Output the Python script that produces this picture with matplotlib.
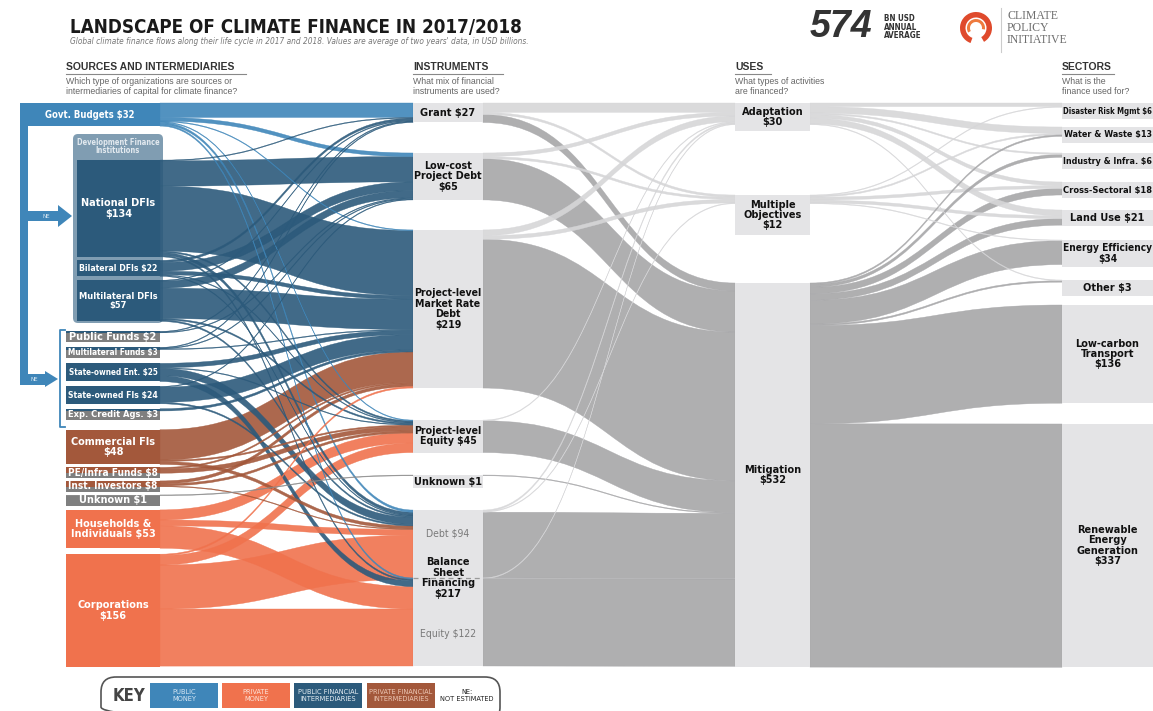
import matplotlib
matplotlib.use("Agg")
import matplotlib.pyplot as plt
from matplotlib import font_manager as fm
from matplotlib.path import Path
from matplotlib.patches import PathPatch, Rectangle, FancyBboxPatch, Polygon, Wedge

# ---- data: USD billions, annual average 2017/2018 ----
sources = ["Govt. Budgets", "National DFIs", "Bilateral DFIs", "Multilateral DFIs",
           "Public Funds", "Multilateral Funds", "State-owned Ent.", "State-owned FIs",
           "Exp. Credit Ags.", "Commercial FIs", "PE/Infra Funds", "Inst. Investors",
           "Unknown", "Households & Individuals", "Corporations"]
source_values = [32, 134, 22, 57, 2, 3, 25, 24, 3, 48, 8, 8, 1, 53, 156]
source_labels = ["Govt. Budgets $32", "National DFIs\n$134", "Bilateral DFIs $22",
                 "Multilateral DFIs\n$57", "Public Funds $2", "Multilateral Funds $3",
                 "State-owned Ent. $25", "State-owned FIs $24", "Exp. Credit Ags. $3",
                 "Commercial FIs\n$48", "PE/Infra Funds $8", "Inst. Investors $8",
                 "Unknown $1", "Households &\nIndividuals $53", "Corporations\n$156"]
source_kind = ["public", "pfi", "pfi", "pfi", "pfi", "pfi", "pfi", "pfi", "pfi",
               "prfi", "prfi", "prfi", "ne", "private", "private"]

instruments = ["Grant", "Low-cost Debt", "Market Rate Debt", "Equity", "Unknown",
               "BS Debt", "BS Equity"]
instrument_values = [27, 65, 219, 45, 1, 94, 122]
instrument_labels = ["Grant $27", "Low-cost\nProject Debt\n$65",
                     "Project-level\nMarket Rate\nDebt\n$219", "Project-level\nEquity $45",
                     "Unknown $1", "Debt $94", "Equity $122"]

uses = ["Adaptation", "Multiple Objectives", "Mitigation"]
use_values = [30, 12, 532]
use_labels = ["Adaptation\n$30", "Multiple\nObjectives\n$12", "Mitigation\n$532"]

sectors = ["Disaster Risk Mgmt", "Water & Waste", "Industry & Infra.", "Cross-Sectoral",
           "Land Use", "Energy Efficiency", "Other", "Low-carbon Transport",
           "Renewable Energy Generation"]
sector_values = [6, 13, 6, 18, 21, 34, 3, 136, 337]
sector_labels = ["Disaster Risk Mgmt $6", "Water & Waste $13", "Industry & Infra. $6",
                 "Cross-Sectoral $18", "Land Use $21", "Energy Efficiency\n$34", "Other $3",
                 "Low-carbon\nTransport\n$136", "Renewable\nEnergy\nGeneration\n$337"]

flows_src_inst = [
    ("Govt. Budgets", "Grant", 20), ("Govt. Budgets", "Low-cost Debt", 5),
    ("Govt. Budgets", "Market Rate Debt", 1), ("Govt. Budgets", "Equity", 1),
    ("Govt. Budgets", "BS Debt", 3), ("Govt. Budgets", "BS Equity", 2),
    ("National DFIs", "Grant", 1), ("National DFIs", "Low-cost Debt", 35),
    ("National DFIs", "Market Rate Debt", 90), ("National DFIs", "Equity", 2),
    ("National DFIs", "BS Debt", 4), ("National DFIs", "BS Equity", 2),
    ("Bilateral DFIs", "Grant", 3), ("Bilateral DFIs", "Low-cost Debt", 12),
    ("Bilateral DFIs", "Market Rate Debt", 5), ("Bilateral DFIs", "Equity", 1),
    ("Bilateral DFIs", "BS Debt", 1),
    ("Multilateral DFIs", "Grant", 1), ("Multilateral DFIs", "Low-cost Debt", 10),
    ("Multilateral DFIs", "Market Rate Debt", 42), ("Multilateral DFIs", "Equity", 2),
    ("Multilateral DFIs", "BS Debt", 2),
    ("Public Funds", "Grant", 1), ("Public Funds", "Low-cost Debt", 1),
    ("Multilateral Funds", "Grant", 1), ("Multilateral Funds", "Low-cost Debt", 1),
    ("Multilateral Funds", "Market Rate Debt", 1),
    ("State-owned Ent.", "Market Rate Debt", 6), ("State-owned Ent.", "Equity", 1),
    ("State-owned Ent.", "BS Debt", 10), ("State-owned Ent.", "BS Equity", 8),
    ("State-owned FIs", "Low-cost Debt", 1), ("State-owned FIs", "Market Rate Debt", 21),
    ("State-owned FIs", "BS Debt", 2),
    ("Exp. Credit Ags.", "Market Rate Debt", 3),
    ("Commercial FIs", "Market Rate Debt", 42), ("Commercial FIs", "Equity", 2),
    ("Commercial FIs", "BS Debt", 4),
    ("PE/Infra Funds", "Market Rate Debt", 2), ("PE/Infra Funds", "Equity", 6),
    ("Inst. Investors", "Market Rate Debt", 4), ("Inst. Investors", "Equity", 3),
    ("Inst. Investors", "BS Debt", 1),
    ("Unknown", "Unknown", 1),
    ("Households & Individuals", "Equity", 14), ("Households & Individuals", "BS Debt", 8),
    ("Households & Individuals", "BS Equity", 31),
    ("Corporations", "Market Rate Debt", 2), ("Corporations", "Equity", 13),
    ("Corporations", "BS Debt", 61), ("Corporations", "BS Equity", 79),
]

flows_inst_use = [
    ("Grant", "Adaptation", 13), ("Grant", "Multiple Objectives", 3), ("Grant", "Mitigation", 11),
    ("Low-cost Debt", "Adaptation", 5), ("Low-cost Debt", "Multiple Objectives", 3),
    ("Low-cost Debt", "Mitigation", 57),
    ("Market Rate Debt", "Adaptation", 8), ("Market Rate Debt", "Multiple Objectives", 5),
    ("Market Rate Debt", "Mitigation", 206),
    ("Equity", "Adaptation", 1), ("Equity", "Mitigation", 44),
    ("Unknown", "Mitigation", 1),
    ("BS Debt", "Adaptation", 2), ("BS Debt", "Multiple Objectives", 1), ("BS Debt", "Mitigation", 91),
    ("BS Equity", "Adaptation", 1), ("BS Equity", "Mitigation", 121),
]

flows_use_sector = [
    ("Adaptation", "Disaster Risk Mgmt", 5), ("Adaptation", "Water & Waste", 9),
    ("Adaptation", "Industry & Infra.", 2), ("Adaptation", "Cross-Sectoral", 5),
    ("Adaptation", "Land Use", 8), ("Adaptation", "Other", 1),
    ("Multiple Objectives", "Disaster Risk Mgmt", 1), ("Multiple Objectives", "Water & Waste", 2),
    ("Multiple Objectives", "Cross-Sectoral", 4), ("Multiple Objectives", "Land Use", 4),
    ("Multiple Objectives", "Energy Efficiency", 1),
    ("Mitigation", "Water & Waste", 2), ("Mitigation", "Industry & Infra.", 4),
    ("Mitigation", "Cross-Sectoral", 9), ("Mitigation", "Land Use", 9),
    ("Mitigation", "Energy Efficiency", 33), ("Mitigation", "Other", 2),
    ("Mitigation", "Low-carbon Transport", 136),
    ("Mitigation", "Renewable Energy Generation", 337),
]

# ---- layout & style ----
W, H = 1153, 711
S = 0.722  # pixels per USD bn
PUB, PRIV, PFI, PRFI, NEG = "#3f86b9", "#f0724d", "#2c5a7b", "#a3583b", "#7f7f7f"
kind_color = {"public": PUB, "private": PRIV, "pfi": PFI, "prfi": PRFI, "ne": "#8a8a8a"}
BOX = "#e4e4e6"
GRAY_DARK, GRAY_LIGHT = "#a6a6a8", "#d6d6d8"
SANS = ["Liberation Sans", "DejaVu Sans"]


def condensed(bold=False, italic=False):
    # look for an installed narrow/condensed face, else fall back to Liberation Sans
    best = None
    for f in fm.fontManager.ttflist:
        fn = f.fname.lower().rsplit("/", 1)[-1]
        if not ("narrow" in fn or "condensed" in fn):
            continue
        if "semicondensed" in fn or "extracondensed" in fn or "ultracondensed" in fn:
            continue
        is_bold = "bold" in fn and not any(s in fn for s in ("semibold", "extrabold", "demibold"))
        is_it = "italic" in fn or "oblique" in fn
        plain = not any(s in fn for s in ("light", "thin", "medium", "black", "semi", "extra"))
        if is_bold == bold and is_it == italic and plain:
            rank = 0 if "liberation" in fn else (1 if "noto" in fn else (2 if "dejavu" in fn else 3))
            if best is None or rank < best[0]:
                best = (rank, f.fname)
    if best:
        return fm.FontProperties(fname=best[1])
    return fm.FontProperties(family=SANS, weight="bold" if bold else "normal",
                             style="italic" if italic else "normal")


NB = condensed(bold=True)
NR = condensed()
NI = condensed(italic=True)

fig = plt.figure(figsize=(W / 100, H / 100), dpi=100)
ax = fig.add_axes([0, 0, 1, 1])
ax.set_xlim(0, W)
ax.set_ylim(H, 0)
ax.axis("off")
renderer = fig.canvas.get_renderer()


def label(x, y, s, fp, size, color, maxw=None, **kw):
    p = fp.copy()
    p.set_size(size)
    t = ax.text(x, y, s, fontproperties=p, color=color, **kw)
    if maxw:
        w = t.get_window_extent(renderer).width
        if w > maxw:
            t.set_fontsize(size * maxw / w)
    return t


def place(names, values, labels, gaps, start, lh, pad):
    tops, hts = {}, {}
    y = start
    for n, v, lab, g in zip(names, values, labels, gaps):
        y += g
        h = max(v * S, (lab.count("\n") + 1) * lh + pad)
        tops[n], hts[n] = y, h
        y += h
    return tops, hts


src_top, src_h = place(sources, source_values, source_labels,
                       [0, 34, 3.5, 4, 10, 5, 5, 5, 5, 10, 3, 2.5, 3, 4, 6], 103, 10, 1)
inst_top, inst_h = place(instruments, instrument_values, ["x"] * len(instruments),
                         [0, 30.5, 30, 32, 22.5, 22, 0], 103, 11, 2)
use_top, use_h = place(uses, use_values, use_labels, [0, 64, 48], 103, 12, 4)
sec_top, sec_h = place(sectors, sector_values, sector_labels,
                       [0, 8, 10, 13, 12, 14, 13, 9, 20.8], 103, 11, 5)

SRC_X0, SRC_X1 = 66, 160
INST_X0, INST_X1 = 413, 483
USE_X0, USE_X1 = 735, 810
SEC_X0, SEC_X1 = 1062, W


def ribbon(x0, ya0, ya1, x1, yb0, yb1, color, alpha):
    xm = (x0 + x1) / 2
    verts = [(x0, ya0), (xm, ya0), (xm, yb0), (x1, yb0),
             (x1, yb1), (xm, yb1), (xm, ya1), (x0, ya1), (x0, ya0)]
    codes = [Path.MOVETO, Path.CURVE4, Path.CURVE4, Path.CURVE4, Path.LINETO,
             Path.CURVE4, Path.CURVE4, Path.CURVE4, Path.CLOSEPOLY]
    ax.add_patch(PathPatch(Path(verts, codes), fc=color, ec=color, lw=0.3,
                           alpha=alpha, zorder=2))


def draw_flows(flows, a_names, a_top, b_names, b_top, xa, xb, color_of, alpha):
    out_y = dict(a_top)
    in_y = dict(b_top)
    bands = {}
    for f in sorted(flows, key=lambda f: (a_names.index(f[0]), b_names.index(f[1]))):
        bands[f] = [out_y[f[0]], out_y[f[0]] + f[2] * S]
        out_y[f[0]] += f[2] * S
    for f in sorted(flows, key=lambda f: (b_names.index(f[1]), a_names.index(f[0]))):
        bands[f] += [in_y[f[1]], in_y[f[1]] + f[2] * S]
        in_y[f[1]] += f[2] * S
    for f in sorted(flows, key=lambda f: -f[2]):
        ya0, ya1, yb0, yb1 = bands[f]
        ribbon(xa, ya0, ya1, xb, yb0, yb1, color_of(f), alpha)


src_color = dict(zip(sources, [kind_color[k] for k in source_kind]))
draw_flows(flows_src_inst, sources, src_top, instruments, inst_top, SRC_X1, INST_X0,
           lambda f: src_color[f[0]], 0.9)
draw_flows(flows_inst_use, instruments, inst_top, uses, use_top, INST_X1, USE_X0,
           lambda f: GRAY_DARK if f[1] == "Mitigation" else GRAY_LIGHT, 0.9)
draw_flows(flows_use_sector, uses, use_top, sectors, sec_top, USE_X1, SEC_X0,
           lambda f: GRAY_DARK if f[0] == "Mitigation" else GRAY_LIGHT, 0.9)

# ---- left frame: govt budgets + NE arrows ----
ax.add_patch(Rectangle((20, 103), 8, 282, fc=PUB, ec="none", zorder=3))
ax.add_patch(Polygon([(28, 211), (58, 211), (58, 205), (72, 216), (58, 227), (58, 221), (28, 221)],
                     closed=True, fc=PUB, ec="none", zorder=3))
ax.add_patch(Polygon([(20, 374), (45, 374), (45, 371), (58, 379), (45, 387), (45, 385), (20, 385)],
                     closed=True, fc=PUB, ec="none", zorder=3))
label(46, 216, "NE", NR, 4.5, "#d6e6f2", ha="center", va="center", zorder=4)
label(34, 379.5, "NE", NR, 4.5, "#d6e6f2", ha="center", va="center", zorder=4)
ax.plot([65, 60, 60, 65], [330, 330, 427, 427], color=PUB, lw=1.3, zorder=3)
ax.add_patch(FancyBboxPatch((73, 134), 90, 189, boxstyle="round,pad=0,rounding_size=5",
                            fc="#809db2", ec="none", zorder=1))
label(118, 146.5, "Development Finance\nInstitutions", NB, 6, "#e2e9ef", maxw=84,
      ha="center", va="center", linespacing=0.95, zorder=4)

# ---- nodes ----
for n, v, lab, k in zip(sources, source_values, source_labels, source_kind):
    x0 = 77 if n in ("National DFIs", "Bilateral DFIs", "Multilateral DFIs") else SRC_X0
    if n == "Govt. Budgets":
        x0 = 20
    top, h = src_top[n], src_h[n]
    if v * S < h - 0.5:
        ax.add_patch(Rectangle((x0, top), SRC_X1 - x0, h, fc=NEG, ec="none", zorder=3))
    ax.add_patch(Rectangle((x0, top), SRC_X1 - x0, v * S, fc=kind_color[k], ec="none", zorder=3))
    cx = 90 if n == "Govt. Budgets" else (x0 + SRC_X1) / 2
    label(cx, top + h / 2, lab, NB, 7.8, "white", maxw=min(SRC_X1 - x0, 94) - 4,
          ha="center", va="center", linespacing=1.05, zorder=4)

for n, lab in zip(instruments, instrument_labels):
    top, h = inst_top[n], inst_h[n]
    ax.add_patch(Rectangle((INST_X0, top), INST_X1 - INST_X0, h, fc=BOX, ec="none", zorder=3))
    if n.startswith("BS"):
        label((INST_X0 + INST_X1) / 2, top + (h * 0.35 if n == "BS Debt" else h * 0.64), lab,
              NR, 7.5, "#7a7a7a", maxw=66, ha="center", va="center", zorder=4)
    else:
        label((INST_X0 + INST_X1) / 2, top + h / 2, lab, NB, 7.8, "#111111", maxw=68,
              ha="center", va="center", linespacing=1.05, zorder=4)
bs_split = inst_top["BS Equity"]
ax.plot([INST_X0, INST_X1], [bs_split, bs_split], color="#9a9a9a", lw=0.9, ls=(0, (4, 3)), zorder=4)
ax.plot([INST_X1, USE_X0], [bs_split, bs_split], color="#b8b8ba", lw=0.6, zorder=3)
label((INST_X0 + INST_X1) / 2, bs_split, "Balance\nSheet\nFinancing\n$217", NB, 7.8, "#111111",
      maxw=68, ha="center", va="center", linespacing=1.05, zorder=4)

for n, lab in zip(uses, use_labels):
    top, h = use_top[n], use_h[n]
    ax.add_patch(Rectangle((USE_X0, top), USE_X1 - USE_X0, h, fc=BOX, ec="none", zorder=3))
    label((USE_X0 + USE_X1) / 2, top + h / 2, lab, NB, 7.8, "#111111", maxw=72,
          ha="center", va="center", linespacing=1.05, zorder=4)

for n, lab in zip(sectors, sector_labels):
    top, h = sec_top[n], sec_h[n]
    ax.add_patch(Rectangle((SEC_X0, top), SEC_X1 - SEC_X0, h, fc=BOX, ec="none", zorder=3))
    label((SEC_X0 + SEC_X1) / 2, top + h / 2, lab, NB, 7.8, "#111111", maxw=89,
          ha="center", va="center", linespacing=1.05, zorder=4)

# ---- header ----
label(70, 33, "LANDSCAPE OF CLIMATE FINANCE IN 2017/2018", NB, 21, "#1a1a1a", maxw=452,
      va="baseline")
label(70, 44, "Global climate finance flows along their life cycle in 2017 and 2018. "
      "Values are average of two years' data, in USD billions.", NI, 6.3, "#777777", maxw=458,
      va="baseline")
headers = [(66, 246, "SOURCES AND INTERMEDIARIES",
            "Which type of organizations are sources or\nintermediaries of capital for climate finance?"),
           (413, 503, "INSTRUMENTS", "What mix of financial\ninstruments are used?"),
           (735, 771, "USES", "What types of activities\nare financed?"),
           (1062, 1113, "SECTORS", "What is the\nfinance used for?")]
for x0, x1, head, q in headers:
    t = ax.text(x0, 70, head, fontsize=7.5, weight="bold", family=SANS, color="#333333",
                va="baseline")
    w = t.get_window_extent(renderer).width
    ax.plot([x0, max(x1, x0 + w + 2)], [74, 74], color="#888888", lw=0.8)
    ax.text(x0, 77, q, fontsize=6.3, family=SANS, color="#666666", va="top", linespacing=1.15)

ax.text(810, 27, "574", fontsize=27, weight="bold", style="italic", family=SANS, color="#333333",
        va="center")
label(884, 27, "BN USD\nANNUAL\nAVERAGE", NB, 5.8, "#333333", va="center", linespacing=0.95)
ax.add_patch(Wedge((976, 28), 16, -250, 60, width=5.5, fc="#df4a2c", ec="none"))
ax.add_patch(Wedge((976, 28), 9, -210, 10, width=3, fc="#ee7a3e", ec="none"))
ax.plot([1001, 1001], [8, 52], color="#cccccc", lw=0.8)
ax.text(1007, 28, "CLIMATE\nPOLICY\nINITIATIVE", fontsize=8.5, family=["Liberation Serif", "DejaVu Serif"],
        color="#6e6e6e", va="center", linespacing=0.95)

# ---- key ----
ax.add_patch(FancyBboxPatch((101, 677), 399, 45, boxstyle="round,pad=0,rounding_size=15",
                            fc="none", ec="#555555", lw=1.2))
label(113, 696, "KEY", NB, 12, "#444444", va="center")
key_items = [(150, "PUBLIC\nMONEY", PUB, "#d7e7f4"), (222, "PRIVATE\nMONEY", PRIV, "#fde3d9"),
             (294, "PUBLIC FINANCIAL\nINTERMEDIARIES", PFI, "#e6eef4"),
             (367, "PRIVATE FINANCIAL\nINTERMEDIARIES", PRFI, "#ecc6b4")]
for x, txt, fc, tc in key_items:
    ax.add_patch(Rectangle((x, 683), 68, 25, fc=fc, ec="none"))
    label(x + 34, 695.5, txt, NR, 5.3, tc, maxw=64, ha="center", va="center", linespacing=1.1)
label(467, 695.5, "NE:\nNOT ESTIMATED", NR, 5.3, "#222222", maxw=62, ha="center", va="center",
      linespacing=1.1)

fig.savefig("out.png", dpi=100)
